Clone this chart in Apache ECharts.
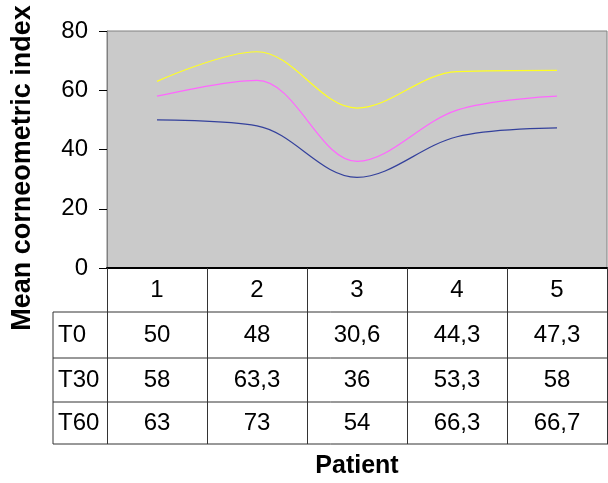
<!DOCTYPE html>
<html>
<head>
<meta charset="utf-8">
<script src="https://cdn.jsdelivr.net/npm/echarts@6/dist/echarts.min.js"></script>
<style>html,body{margin:0;padding:0;background:#fff;}#c{width:608px;height:483px;}</style>
</head>
<body>
<div id="c"></div>
<script>
var categories = ['1', '2', '3', '4', '5'];
var seriesNames = ['T0', 'T30', 'T60'];
var t0 = [50, 48, 30.6, 44.3, 47.3];
var t30 = [58, 63.3, 36, 53.3, 58];
var t60 = [63, 73, 54, 66.3, 66.7];
var yTicks = [0, 20, 40, 60, 80];

var FONT = 'Liberation Sans, Arial, sans-serif';
var L = 107, R = 1, T = 31, B = 215;
var W = 608, H = 483;
var axisY = H - B;
var rowEdges = [312, 358, 402, 444];
var rowCenters = [335, 380, 423];
var fmt = function (v) { return String(v).replace('.', ','); };

var chart = echarts.init(document.getElementById('c'), null, {renderer: 'canvas'});
var tableRows = [t0, t30, t60];
var extraAxes = tableRows.map(function (arr, i) {
  return {
    type: 'category', gridIndex: 0, position: 'bottom',
    offset: rowCenters[i] - axisY,
    data: arr.map(fmt),
    axisLine: {show: false}, axisTick: {show: false}, splitLine: {show: false},
    axisLabel: {show: true, interval: 0, margin: 0, verticalAlign: 'middle', color: '#000', fontSize: 24, fontFamily: FONT},
    name: seriesNames[i], nameLocation: 'start', nameGap: L - 58,
    nameTextStyle: {align: 'left', verticalAlign: 'middle', color: '#000', fontSize: 24, fontFamily: FONT}
  };
});

var graphics = [];
rowEdges.forEach(function (y) {
  graphics.push({type: 'line', shape: {x1: 53, y1: y, x2: W, y2: y}, style: {stroke: '#333', lineWidth: 1}});
});
graphics.push({type: 'line', shape: {x1: 53, y1: rowEdges[0], x2: 53, y2: rowEdges[3]}, style: {stroke: '#333', lineWidth: 1}});
graphics.push({type: 'text', x: 23, y: 168, rotation: Math.PI / 2,
  style: {text: 'Mean corneometric index', fontSize: 27, fontWeight: 'bold', fontFamily: FONT, fill: '#000', align: 'center', verticalAlign: 'middle'}});

var colors = ['#34419c', '#ff66ff', '#ffff22'];
var option = {
  animation: false,
  backgroundColor: '#fff',
  grid: {left: L, right: R, top: T, bottom: B, show: true, backgroundColor: '#cacaca', borderColor: '#808080', borderWidth: 1},
  xAxis: [{
    type: 'category', data: categories, boundaryGap: true, position: 'bottom',
    axisLine: {show: true, lineStyle: {color: '#000', width: 2}},
    axisTick: {show: true, interval: 0, length: rowEdges[3] - axisY, lineStyle: {color: '#333', width: 1}},
    axisLabel: {interval: 0, margin: 22, verticalAlign: 'middle', color: '#000', fontSize: 24, fontFamily: FONT},
    splitLine: {show: false},
    name: 'Patient', nameLocation: 'middle', nameGap: 186,
    nameTextStyle: {color: '#000', fontSize: 25, fontWeight: 'bold', fontFamily: FONT}
  }].concat(extraAxes),
  yAxis: {
    type: 'value', min: yTicks[0], max: yTicks[yTicks.length - 1], interval: 20,
    axisLine: {show: true, lineStyle: {color: '#808080', width: 1}},
    axisTick: {show: true, length: 8, lineStyle: {color: '#000'}},
    axisLabel: {margin: 19, color: '#000', fontSize: 24, fontFamily: FONT},
    splitLine: {show: false}
  },
  series: [t0, t30, t60].map(function (arr, i) {
    return {
      name: seriesNames[i], type: 'line', data: arr, smooth: 0.35,
      showSymbol: false, symbol: 'none',
      lineStyle: {color: colors[i], width: 1.2}, itemStyle: {color: colors[i]}
    };
  }),
  graphic: graphics
};
chart.setOption(option);
</script>
</body>
</html>
